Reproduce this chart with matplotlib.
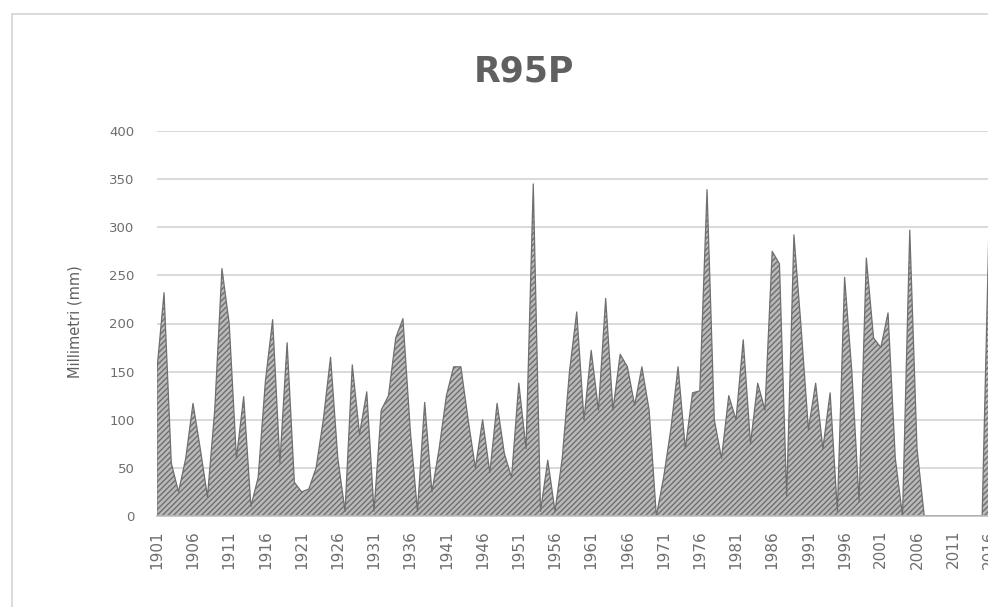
import numpy as np
import matplotlib
matplotlib.use("Agg")
import matplotlib.pyplot as plt
from matplotlib.patches import Rectangle

# dane
lata = list(range(1901, 2017))
r95p = [150, 232, 55, 25, 60, 117, 70, 20, 110, 257,
        200, 60, 124, 10, 40, 140, 204, 55, 180, 35,
        25, 28, 50, 100, 165, 60, 5, 157, 85, 129,
        5, 110, 125, 185, 205, 90, 5, 118, 25, 70,
        125, 155, 155, 100, 50, 100, 45, 117, 65, 40,
        138, 70, 345, 5, 58, 5, 60, 150, 212, 100,
        172, 110, 226, 110, 168, 155, 115, 155, 110, 0,
        40, 90, 155, 70, 128, 130, 339, 100, 60, 125,
        100, 183, 75, 138, 110, 275, 262, 20, 292, 195,
        90, 138, 70, 128, 5, 248, 150, 15, 268, 185,
        175, 211, 60, 0, 297, 70, 0, 0, 0, 0,
        0, 0, 0, 0, 0, 320]
etykiety_x = list(range(1901, 2022, 5))
etykiety_y = list(range(0, 401, 50))

szary = '#606060'
plt.rcParams['hatch.linewidth'] = 1.0

fig = plt.figure(figsize=(9.88, 6.07), dpi=100)
fig.patch.set_facecolor('white')

# ramka wykresu (ucieta z prawej i z dolu)
fig.add_artist(Rectangle((12 / 988, -0.05), 1.0, 1 - 14 / 607 + 0.05,
                         transform=fig.transFigure, fill=False,
                         edgecolor='#d4d4d4', linewidth=1.2))

ax = fig.add_axes([156.8 / 988, 1 - 516 / 607, 868.8 / 988, 385 / 607])
ax.fill_between(lata, r95p, 0, facecolor='#bababa', edgecolor='#6f6f6f',
                hatch='//////', linewidth=0.9, zorder=2)

ax.set_xlim(1901, 2021)
ax.set_ylim(0, 400)
ax.set_yticks(etykiety_y)
ax.set_xticks(etykiety_x)
ax.set_xticklabels([str(r) for r in etykiety_x], rotation=90, va='top')
ax.grid(True, axis='y', color='#d9d9d9', linewidth=1.4, zorder=0)
ax.set_axisbelow(True)

for s in ['top', 'right', 'left']:
    ax.spines[s].set_visible(False)
ax.spines['bottom'].set_color('#bfbfbf')
ax.spines['bottom'].set_linewidth(1.2)

ax.tick_params(axis='y', length=0, pad=16, labelsize=9.5, labelcolor='#6e6e6e')
ax.tick_params(axis='x', length=0, pad=10, labelsize=11, labelcolor='#6e6e6e')

fig.text(75 / 988, 1 - 322 / 607, 'Millimetri (mm)', rotation=90,
         ha='center', va='center', fontsize=10.5, color=szary)
fig.text(524 / 988, 1 - 71 / 607, 'R95P', ha='center', va='center',
         fontsize=25, fontweight='bold', color=szary)

fig.savefig('out.png', dpi=100)
